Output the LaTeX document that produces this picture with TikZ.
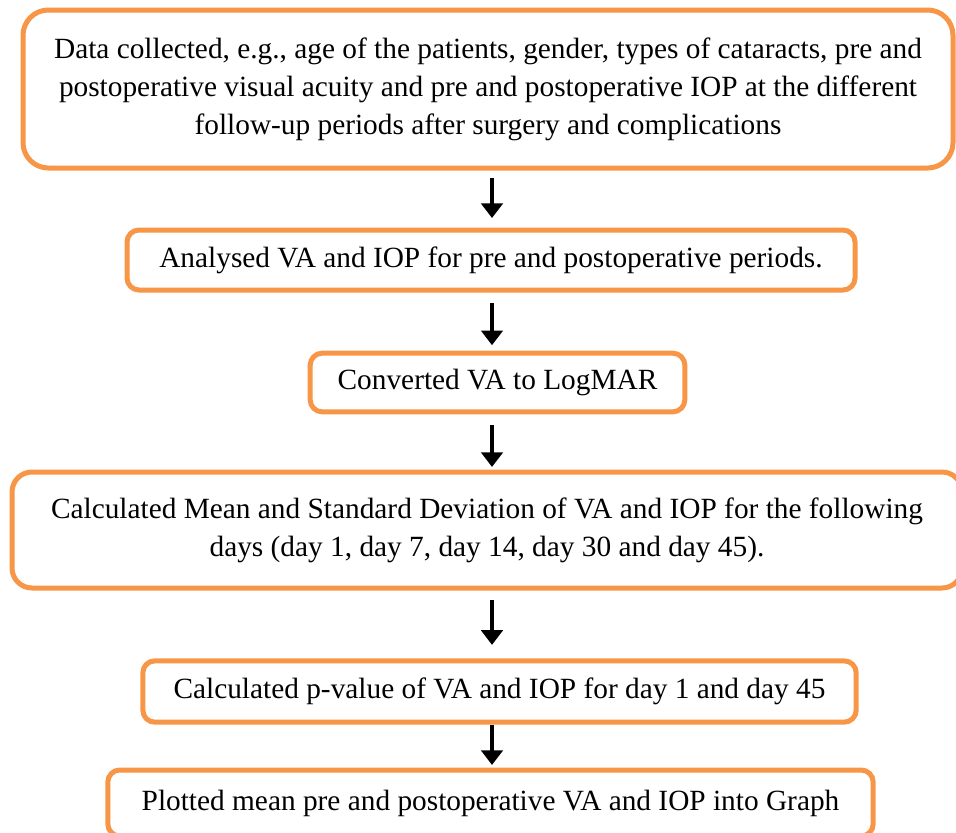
\documentclass[tikz,border=0pt]{standalone}
\usepackage{fontspec}
\setmainfont{Liberation Serif}
\usetikzlibrary{arrows.meta}
\definecolor{boxorange}{RGB}{247,150,70}
\tikzset{
  stepbox/.style={draw=boxorange, line width=3.75pt, fill=white, align=center, inner sep=0pt,
    font=\fontsize{22}{28.5}\selectfont},
  flow/.style={draw=black, line width=3pt, -{Triangle[length=11pt,width=16pt]}}
}
\begin{document}
\begin{tikzpicture}[x=0.75pt,y=0.75pt,yscale=-1,xscale=1]
\useasboundingbox (0,0) rectangle (956,832);
\coordinate (axis) at (492,0);

%Rounded Rect [id:data]
\node[stepbox, rounded corners=19pt, minimum width=697.5pt, minimum height=118.5pt] (data) at (488,89) {Data collected, e.g., age of the patients, gender, types of cataracts, pre and\\ postoperative visual acuity and pre and postoperative IOP at the different\\ follow-up periods after surgery and complications};
%Rounded Rect [id:analysed]
\node[stepbox, rounded corners=9pt, minimum width=546pt, minimum height=45pt] (analysed) at (491,260) {Analysed VA and IOP for pre and postoperative periods.};
%Rounded Rect [id:logmar]
\node[stepbox, rounded corners=9pt, minimum width=281pt, minimum height=44pt] (logmar) at (497.5,382.5) {Converted VA to LogMAR};
%Rounded Rect [id:meansd]
\node[stepbox, rounded corners=15pt, minimum width=712.5pt, minimum height=87pt] (meansd) at (487,530) {Calculated Mean and Standard Deviation of VA and IOP for the following\\ days (day 1, day 7, day 14, day 30 and day 45).};
%Rounded Rect [id:pvalue]
\node[stepbox, rounded corners=9pt, minimum width=535pt, minimum height=46pt] (pvalue) at (499.5,691.5) {Calculated p-value of VA and IOP for day 1 and day 45};
%Rounded Rect [id:graph]
\node[stepbox, rounded corners=9pt, minimum width=574pt, minimum height=49.5pt] (graph) at (490.5,803) {Plotted mean pre and postoperative VA and IOP into Graph};

%Straight Lines [id:data-analysed]
\draw[flow, shorten <=5.6pt, shorten >=7.1pt] (data.south -| axis) -- (analysed.north -| axis);
%Straight Lines [id:analysed-logmar]
\draw[flow, shorten <=7.9pt, shorten >=4.1pt] (analysed.south -| axis) -- (logmar.north -| axis);
%Straight Lines [id:logmar-meansd]
\draw[flow, shorten <=7.9pt, shorten >=1.9pt] (logmar.south -| axis) -- (meansd.north -| axis);
%Straight Lines [id:meansd-pvalue]
\draw[flow, shorten <=7.1pt, shorten >=10.1pt] (meansd.south -| axis) -- (pvalue.north -| axis);
%Straight Lines [id:pvalue-graph]
\draw[flow, shorten <=0.4pt, shorten >=1.9pt] (pvalue.south -| axis) -- (graph.north -| axis);

\end{tikzpicture}
\end{document}
